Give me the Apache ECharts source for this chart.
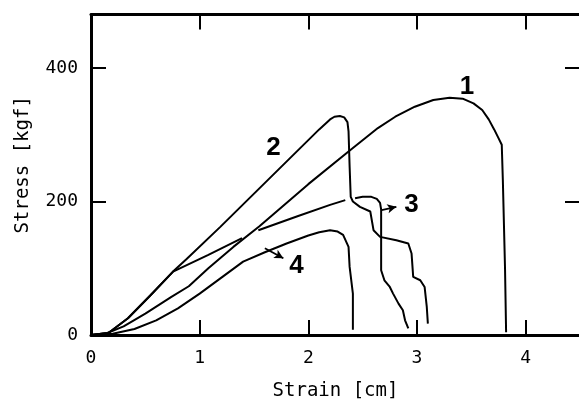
<!DOCTYPE html>
<html><head><meta charset="utf-8">
<script src="https://cdn.jsdelivr.net/npm/echarts@6/dist/echarts.min.js"></script>
<style>html,body{margin:0;padding:0;background:#fff}#c{width:579px;height:401px}</style>
</head><body><div id="c"></div>
<script>
// Strain [cm] vs Stress [kgf]
const curve1 = [[0,0],[0.15,3],[0.3,13],[0.5,32],[0.74,57],[0.9,73],[1.08,100],[1.31,132],[1.55,163],[2.0,226],[2.37,275],[2.64,310],[2.8,327],[2.98,342],[3.15,352],[3.3,355.5],[3.42,354],[3.52,347],[3.6,337],[3.66,323],[3.71,308],[3.75,295],[3.78,285],[3.79,232],[3.81,100],[3.82,4]];
const curve2 = [[0,0],[0.16,3],[0.34,25],[0.55,60],[0.755,95],[0.88,114],[1.19,162],[2.1,308],[2.16,317],[2.2,323],[2.24,327],[2.29,328],[2.33,326],[2.36,319],[2.37,305],[2.38,252],[2.39,207],[2.41,200],[2.475,192],[2.57,185],[2.6,157],[2.66,147],[2.81,142],[2.92,137],[2.95,122],[2.965,87],[3.03,82],[3.07,72],[3.09,42],[3.1,17]];
const curve3 = [[0,0],[0.16,3],[0.34,25],[0.55,60],[0.755,95],[1.08,120],[1.39,145],[1.45,'-'],[1.54,157],[1.9,178],[2.2,195],[2.34,202],[2.38,'-'],[2.43,205],[2.5,207],[2.58,207],[2.63,204],[2.66,198],[2.67,188],[2.67,97],[2.7,82],[2.75,72],[2.78,62],[2.83,47],[2.87,37],[2.89,22],[2.92,10]];
const curve4 = [[0,0],[0.2,2],[0.4,9],[0.6,22],[0.8,40],[1.0,62],[1.2,86],[1.4,110],[1.6,124],[1.8,137],[2.0,149],[2.1,154],[2.2,157],[2.27,155],[2.32,150],[2.37,132],[2.38,102],[2.41,62],[2.41,8]];
const curveLabels = [{name:'1', value:[3.46,372]},{name:'2', value:[1.68,280]},{name:'3', value:[2.95,195]},{name:'4', value:[1.89,103]}];
const arrow3 = [[2.674,187],[2.81,192]];
const arrow4 = [[1.60,130],[1.77,115]];
const xTickLabels = ['0','1','2','3','4'];
const yTickLabels = {0:'0',200:'200',400:'400'};

const chart = echarts.init(document.getElementById('c'), null, {renderer:'canvas'});
const axisFont = {fontFamily:'DejaVu Sans Mono', fontSize:18, color:'#000'};
const frame = {show:true, onZero:false, lineStyle:{color:'#000', width:3}};
const tick = {show:true, inside:true, length:15, lineStyle:{color:'#000', width:2}};
function lineSeries(data){
  return {type:'line', data:data, showSymbol:false, symbol:'none', lineStyle:{color:'#000', width:2}, xAxisIndex:0, yAxisIndex:0, animation:false, z:3};
}
const s4 = lineSeries(curve4);
s4.markLine = {silent:true, symbol:['none','arrow'], symbolSize:[7,9], label:{show:false},
  lineStyle:{color:'#000', width:1.8, type:'solid'}, animation:false,
  data:[[{coord:arrow3[0]},{coord:arrow3[1]}],[{coord:arrow4[0]},{coord:arrow4[1]}]]};
chart.setOption({
  backgroundColor:'#fff',
  animation:false,
  grid:{left:91, right:-1, top:14.6, bottom:66, containLabel:false, outerBoundsMode:'none'},
  xAxis:[
    {type:'value', position:'bottom', min:0, max:4.5, interval:1,
     name:'Strain [cm]', nameLocation:'middle', nameGap:47, nameTextStyle:{fontFamily:'DejaVu Sans Mono', fontSize:19, color:'#000'},
     axisLine:frame, axisTick:tick, splitLine:{show:false},
     axisLabel:Object.assign({margin:14, showMaxLabel:false, formatter:v=>xTickLabels[v]!==undefined && Number.isInteger(v)?xTickLabels[v]:''}, axisFont)},
    {type:'value', position:'top', min:0, max:4.5, interval:1, axisLine:frame, axisTick:tick, splitLine:{show:false}, axisLabel:{show:false}}
  ],
  yAxis:[
    {type:'value', position:'left', min:0, max:480, interval:200,
     name:'Stress [kgf]', nameLocation:'middle', nameGap:58, nameTextStyle:{fontFamily:'DejaVu Sans Mono', fontSize:19, color:'#000', padding:[0,0,0,20]},
     axisLine:frame, axisTick:tick, splitLine:{show:false},
     axisLabel:Object.assign({margin:13, showMaxLabel:false, formatter:v=>yTickLabels[v]||''}, axisFont)},
    {type:'value', position:'right', min:0, max:480, interval:200, axisLine:frame, axisTick:tick, splitLine:{show:false}, axisLabel:{show:false}}
  ],
  series:[
    lineSeries(curve1), lineSeries(curve2), lineSeries(curve3), s4,
    {type:'scatter', data:curveLabels, symbolSize:0, xAxisIndex:0, yAxisIndex:0, z:5, itemStyle:{opacity:1},
     label:{show:true, position:'inside', formatter:p=>p.name, fontFamily:'Liberation Sans', fontWeight:'bold', fontSize:26, color:'#000', opacity:1}}
  ]
});
</script></body></html>
